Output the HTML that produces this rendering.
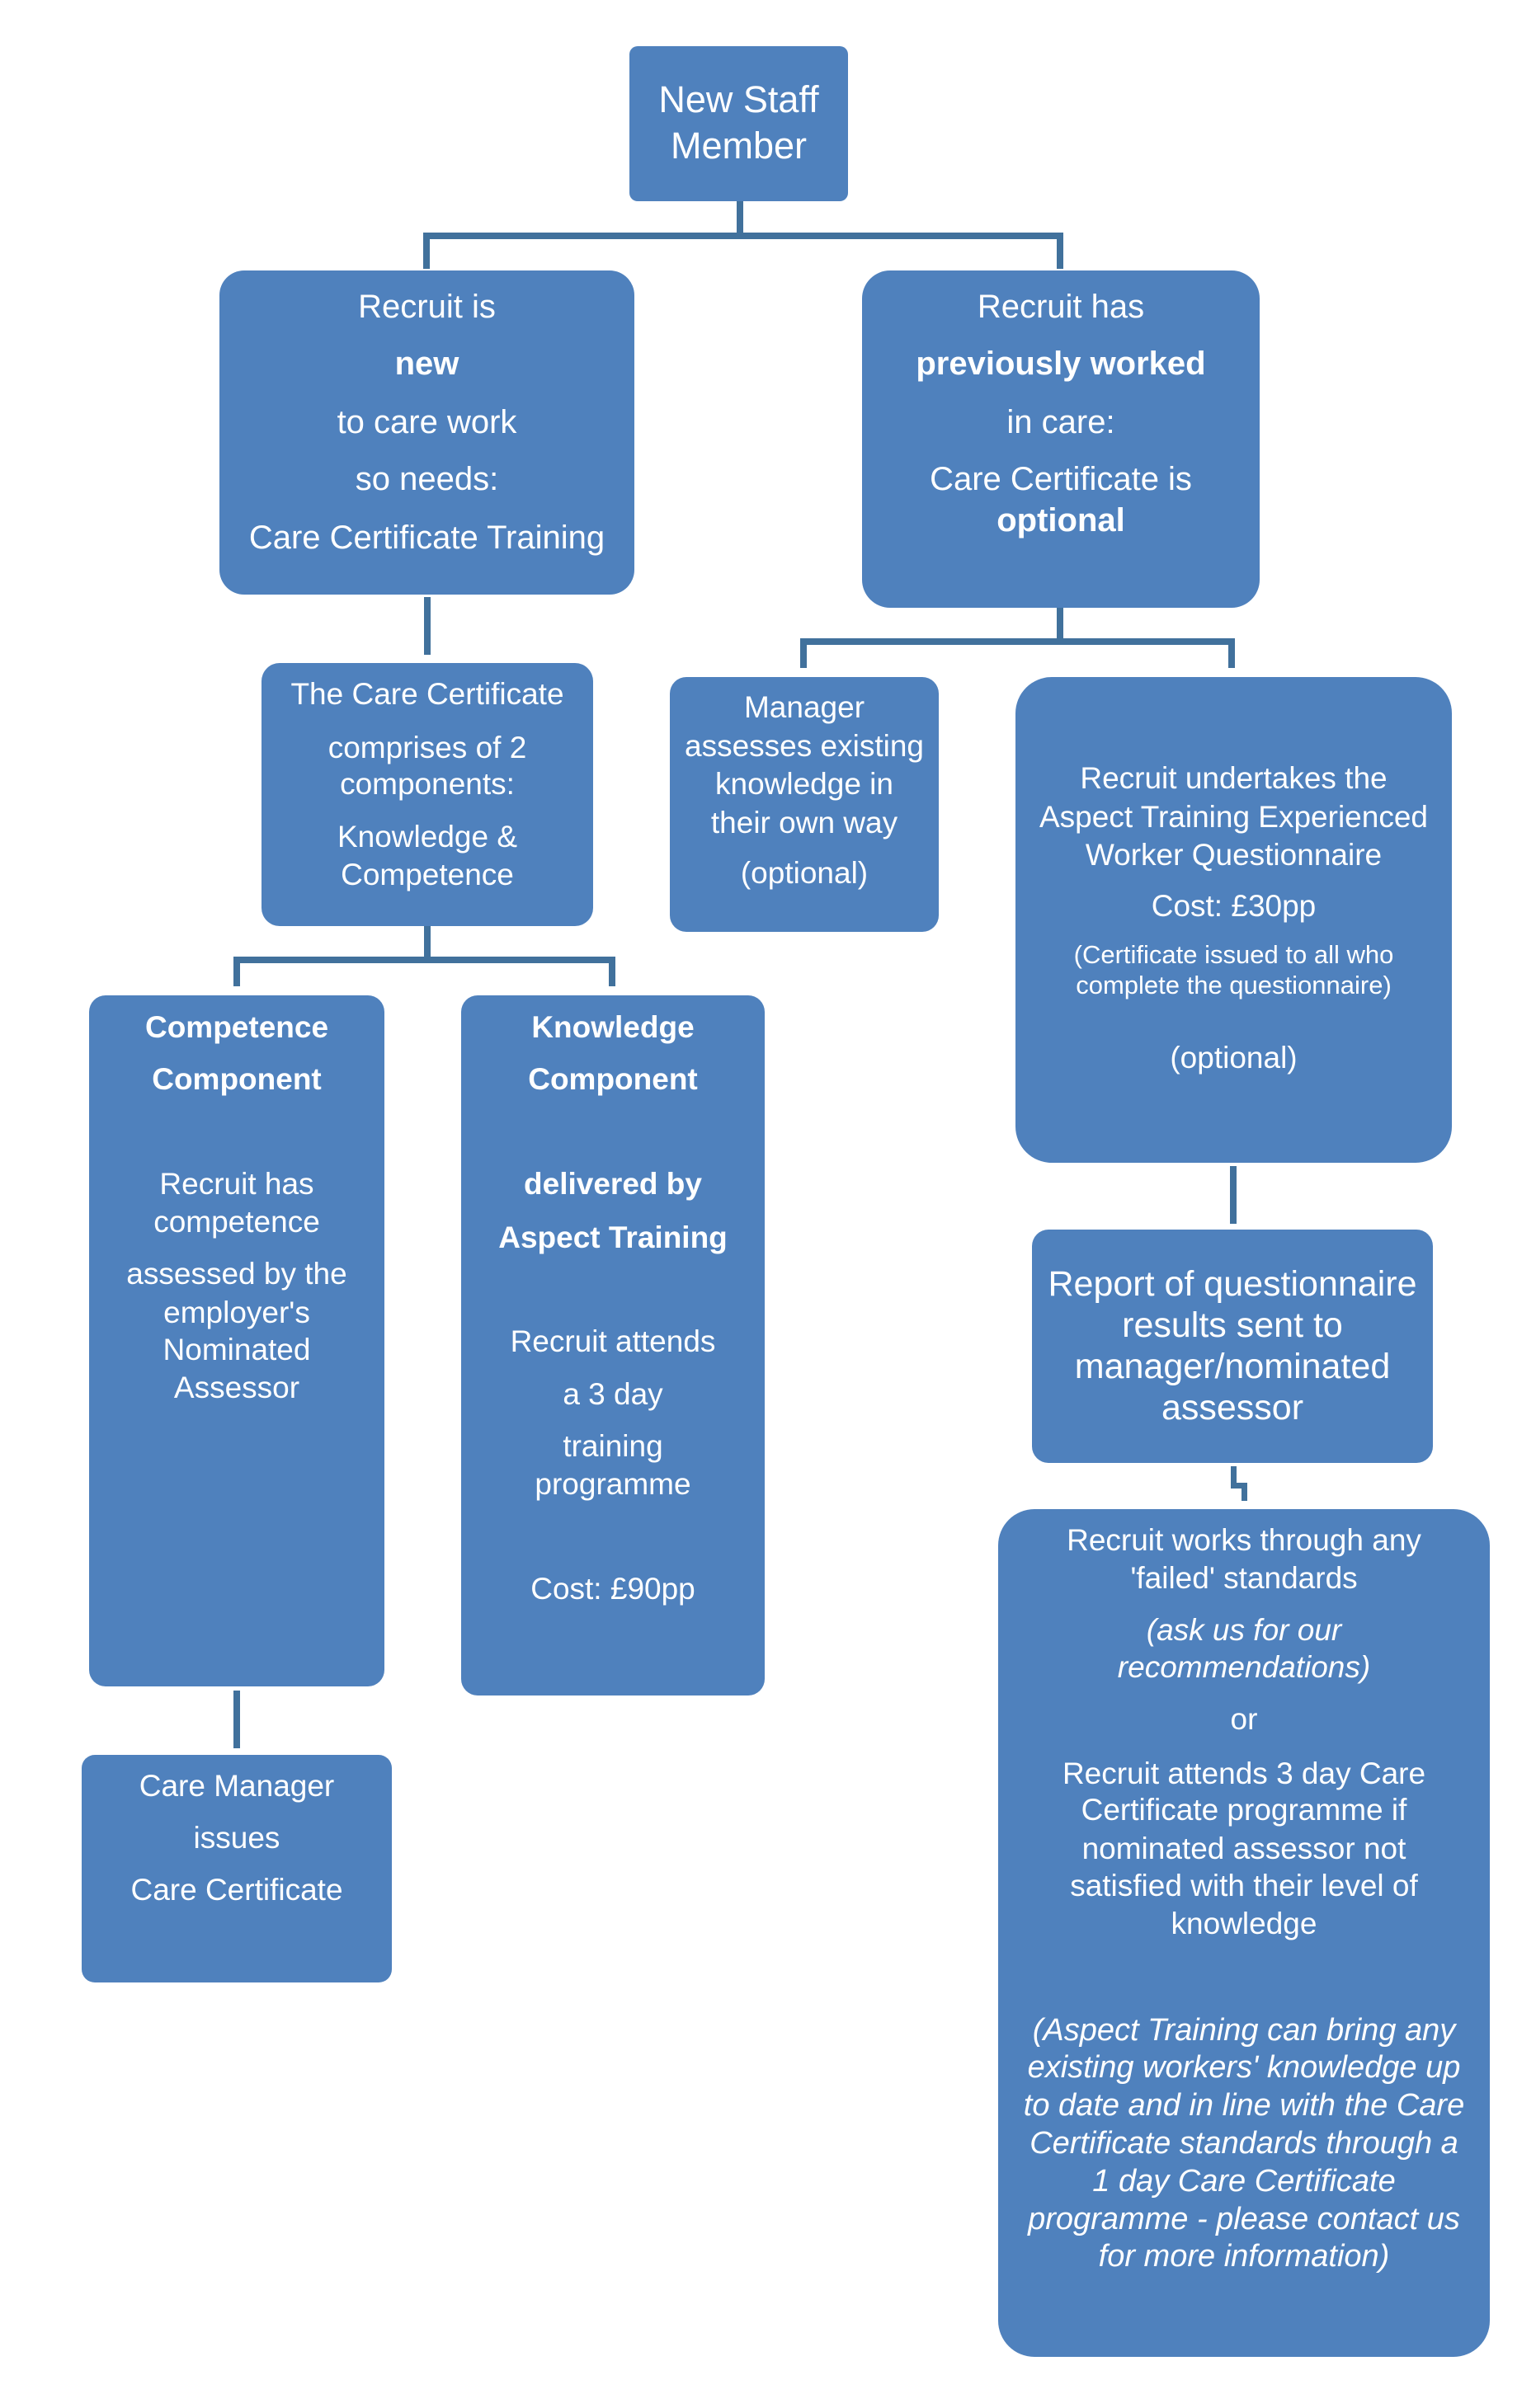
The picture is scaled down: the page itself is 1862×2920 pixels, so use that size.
<!DOCTYPE html>
<html><head><meta charset="utf-8"><style>
html,body{margin:0;padding:0;background:#fff;}
body{width:1862px;height:2920px;position:relative;overflow:hidden;font-family:"Liberation Sans",sans-serif;color:#fff;}
.b{position:absolute;background:#4f81bd;border-radius:26px;}
.l{position:absolute;background:#41719c;}
.t{position:absolute;text-align:center;white-space:nowrap;line-height:50px;height:50px;}
.bo{font-weight:bold;}
.it{font-style:italic;}
</style></head><body>

<!-- connectors -->
<div class="l" style="left:893px;top:244px;width:8px;height:46px"></div>
<div class="l" style="left:513px;top:282px;width:776px;height:8px"></div>
<div class="l" style="left:513px;top:282px;width:8px;height:44px"></div>
<div class="l" style="left:1281px;top:282px;width:8px;height:44px"></div>

<div class="l" style="left:514px;top:724px;width:8px;height:70px"></div>

<div class="l" style="left:1281px;top:737px;width:8px;height:44px"></div>
<div class="l" style="left:970px;top:774px;width:527px;height:8px"></div>
<div class="l" style="left:970px;top:774px;width:8px;height:36px"></div>
<div class="l" style="left:1489px;top:774px;width:8px;height:36px"></div>

<div class="l" style="left:514px;top:1123px;width:8px;height:44px"></div>
<div class="l" style="left:283px;top:1160px;width:463px;height:8px"></div>
<div class="l" style="left:283px;top:1160px;width:8px;height:36px"></div>
<div class="l" style="left:738px;top:1160px;width:8px;height:36px"></div>

<div class="l" style="left:283px;top:2050px;width:8px;height:70px"></div>
<div class="l" style="left:1491px;top:1414px;width:8px;height:70px"></div>

<div class="l" style="left:1492px;top:1778px;width:7px;height:26px"></div>
<div class="l" style="left:1492px;top:1798px;width:20px;height:7px"></div>
<div class="l" style="left:1505px;top:1798px;width:7px;height:22px"></div>

<!-- boxes -->
<div class="b" style="left:763px;top:56px;width:265px;height:188px;border-radius:10px"></div>
<div class="b" style="left:266px;top:328px;width:503px;height:393px;border-radius:30px"></div>
<div class="b" style="left:1045px;top:328px;width:482px;height:409px;border-radius:34px"></div>
<div class="b" style="left:317px;top:804px;width:402px;height:319px;border-radius:22px"></div>
<div class="b" style="left:812px;top:821px;width:326px;height:309px;border-radius:20px"></div>
<div class="b" style="left:1231px;top:821px;width:529px;height:589px;border-radius:44px"></div>
<div class="b" style="left:108px;top:1207px;width:358px;height:838px;border-radius:20px"></div>
<div class="b" style="left:559px;top:1207px;width:368px;height:849px;border-radius:20px"></div>
<div class="b" style="left:99px;top:2128px;width:376px;height:276px;border-radius:16px"></div>
<div class="b" style="left:1251px;top:1491px;width:486px;height:283px;border-radius:20px"></div>
<div class="b" style="left:1210px;top:1830px;width:596px;height:1028px;border-radius:44px"></div>

<!-- New Staff -->
<div class="t" style="left:763px;width:265px;top:96px;font-size:45px">New Staff</div>
<div class="t" style="left:763px;width:265px;top:152px;font-size:45px">Member</div>

<!-- Recruit new -->
<div class="t" style="left:266px;width:503px;top:347px;font-size:40px">Recruit is</div>
<div class="t bo" style="left:266px;width:503px;top:416px;font-size:40px">new</div>
<div class="t" style="left:266px;width:503px;top:487px;font-size:40px">to care work</div>
<div class="t" style="left:266px;width:503px;top:556px;font-size:40px">so needs:</div>
<div class="t" style="left:266px;width:503px;top:627px;font-size:40px">Care Certificate Training</div>

<!-- Recruit prev -->
<div class="t" style="left:1045px;width:482px;top:347px;font-size:40px">Recruit has</div>
<div class="t bo" style="left:1045px;width:482px;top:416px;font-size:40px">previously worked</div>
<div class="t" style="left:1045px;width:482px;top:487px;font-size:40px">in care:</div>
<div class="t" style="left:1045px;width:482px;top:556px;font-size:40px">Care Certificate is</div>
<div class="t bo" style="left:1045px;width:482px;top:606px;font-size:40px">optional</div>

<!-- Care cert -->
<div class="t" style="left:317px;width:402px;top:817px;font-size:37px">The Care Certificate</div>
<div class="t" style="left:317px;width:402px;top:882px;font-size:37px">comprises of 2</div>
<div class="t" style="left:317px;width:402px;top:926px;font-size:37px">components:</div>
<div class="t" style="left:317px;width:402px;top:990px;font-size:37px">Knowledge &amp;</div>
<div class="t" style="left:317px;width:402px;top:1036px;font-size:37px">Competence</div>

<!-- Manager -->
<div class="t" style="left:812px;width:326px;top:833px;font-size:37px">Manager</div>
<div class="t" style="left:812px;width:326px;top:880px;font-size:37px">assesses existing</div>
<div class="t" style="left:812px;width:326px;top:926px;font-size:37px">knowledge in</div>
<div class="t" style="left:812px;width:326px;top:973px;font-size:37px">their own way</div>
<div class="t" style="left:812px;width:326px;top:1034px;font-size:37px">(optional)</div>

<!-- Undertakes -->
<div class="t" style="left:1231px;width:529px;top:919px;font-size:37px">Recruit undertakes the</div>
<div class="t" style="left:1231px;width:529px;top:966px;font-size:37px">Aspect Training Experienced</div>
<div class="t" style="left:1231px;width:529px;top:1012px;font-size:37px">Worker Questionnaire</div>
<div class="t" style="left:1231px;width:529px;top:1074px;font-size:37px">Cost: £30pp</div>
<div class="t" style="left:1231px;width:529px;top:1133px;font-size:31px">(Certificate issued to all who</div>
<div class="t" style="left:1231px;width:529px;top:1170px;font-size:31px">complete the questionnaire)</div>
<div class="t" style="left:1231px;width:529px;top:1258px;font-size:37px">(optional)</div>

<!-- Competence -->
<div class="t bo" style="left:108px;width:358px;top:1221px;font-size:37px">Competence</div>
<div class="t bo" style="left:108px;width:358px;top:1284px;font-size:37px">Component</div>
<div class="t" style="left:108px;width:358px;top:1411px;font-size:37px">Recruit has</div>
<div class="t" style="left:108px;width:358px;top:1457px;font-size:37px">competence</div>
<div class="t" style="left:108px;width:358px;top:1520px;font-size:37px">assessed by the</div>
<div class="t" style="left:108px;width:358px;top:1567px;font-size:37px">employer's</div>
<div class="t" style="left:108px;width:358px;top:1612px;font-size:37px">Nominated</div>
<div class="t" style="left:108px;width:358px;top:1658px;font-size:37px">Assessor</div>

<!-- Knowledge -->
<div class="t bo" style="left:559px;width:368px;top:1221px;font-size:37px">Knowledge</div>
<div class="t bo" style="left:559px;width:368px;top:1284px;font-size:37px">Component</div>
<div class="t bo" style="left:559px;width:368px;top:1411px;font-size:37px">delivered by</div>
<div class="t bo" style="left:559px;width:368px;top:1476px;font-size:37px">Aspect Training</div>
<div class="t" style="left:559px;width:368px;top:1602px;font-size:37px">Recruit attends</div>
<div class="t" style="left:559px;width:368px;top:1666px;font-size:37px">a 3 day</div>
<div class="t" style="left:559px;width:368px;top:1729px;font-size:37px">training</div>
<div class="t" style="left:559px;width:368px;top:1775px;font-size:37px">programme</div>
<div class="t" style="left:559px;width:368px;top:1902px;font-size:37px">Cost: £90pp</div>

<!-- Care Manager -->
<div class="t" style="left:99px;width:376px;top:2141px;font-size:37px">Care Manager</div>
<div class="t" style="left:99px;width:376px;top:2204px;font-size:37px">issues</div>
<div class="t" style="left:99px;width:376px;top:2267px;font-size:37px">Care Certificate</div>

<!-- Report -->
<div class="t" style="left:1251px;width:486px;top:1532px;font-size:43px">Report of questionnaire</div>
<div class="t" style="left:1251px;width:486px;top:1582px;font-size:43px">results sent to</div>
<div class="t" style="left:1251px;width:486px;top:1632px;font-size:43px">manager/nominated</div>
<div class="t" style="left:1251px;width:486px;top:1682px;font-size:43px">assessor</div>

<!-- Recruit works -->
<div class="t" style="left:1210px;width:596px;top:1843px;font-size:37px">Recruit works through any</div>
<div class="t" style="left:1210px;width:596px;top:1889px;font-size:37px">'failed' standards</div>
<div class="t it" style="left:1210px;width:596px;top:1952px;font-size:37px">(ask us for our</div>
<div class="t it" style="left:1210px;width:596px;top:1997px;font-size:37px">recommendations)</div>
<div class="t" style="left:1210px;width:596px;top:2060px;font-size:37px">or</div>
<div class="t" style="left:1210px;width:596px;top:2126px;font-size:37px">Recruit attends 3 day Care</div>
<div class="t" style="left:1210px;width:596px;top:2170px;font-size:37px">Certificate programme if</div>
<div class="t" style="left:1210px;width:596px;top:2217px;font-size:37px">nominated assessor not</div>
<div class="t" style="left:1210px;width:596px;top:2262px;font-size:37px">satisfied with their level of</div>
<div class="t" style="left:1210px;width:596px;top:2308px;font-size:37px">knowledge</div>
<div class="t it" style="left:1210px;width:596px;top:2437px;font-size:38px">(Aspect Training can bring any</div>
<div class="t it" style="left:1210px;width:596px;top:2482px;font-size:38px">existing workers' knowledge up</div>
<div class="t it" style="left:1210px;width:596px;top:2528px;font-size:38px">to date and in line with the Care</div>
<div class="t it" style="left:1210px;width:596px;top:2574px;font-size:38px">Certificate standards through a</div>
<div class="t it" style="left:1210px;width:596px;top:2620px;font-size:38px">1 day Care Certificate</div>
<div class="t it" style="left:1210px;width:596px;top:2666px;font-size:38px">programme - please contact us</div>
<div class="t it" style="left:1210px;width:596px;top:2711px;font-size:38px">for more information)</div>

</body></html>
